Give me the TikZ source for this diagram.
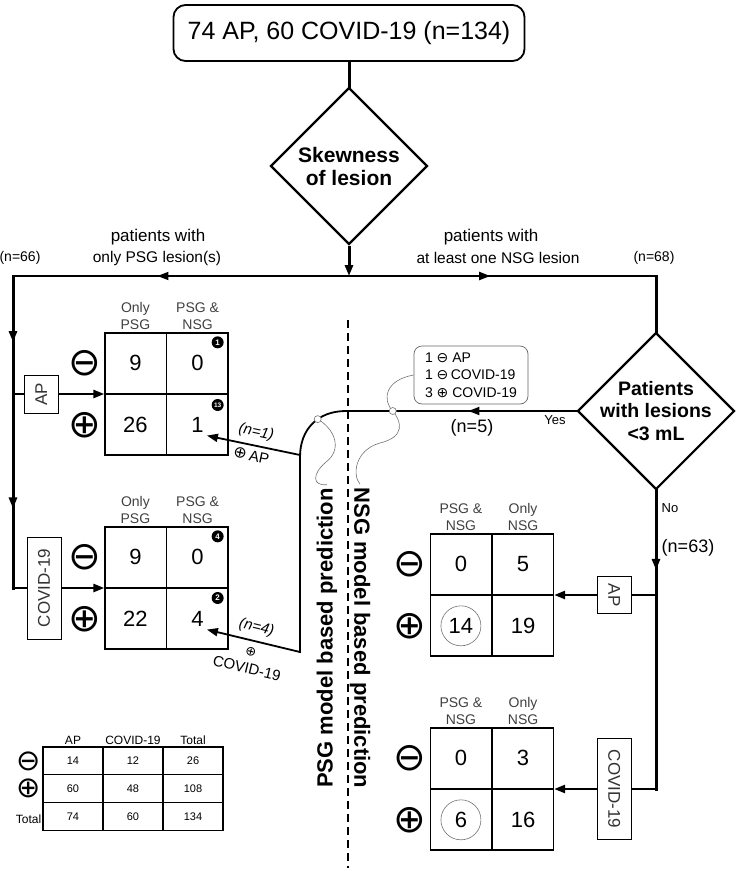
\documentclass[tikz,border=0pt]{standalone}
\usepackage{fontspec}
\setmainfont{Liberation Sans}
\newfontfamily\signfont{DejaVu Sans}
\usetikzlibrary{shapes.geometric,arrows.meta,calc,decorations.markings}

\tikzset{
  flow/.style={line width=3pt, line cap=rect},
  link/.style={line width=1.8pt, line cap=rect},
  feed/.style={line width=2.5pt},
  midarrow/.style={postaction={decorate},
    decoration={markings, mark=at position #1 with {\arrow{Triangle[length=11pt,width=8pt]}}}},
  decision/.style={draw, line width=2.2pt, diamond, aspect=1, minimum size=157pt, inner sep=0pt},
  dtext/.style={font=\bfseries\fontsize{19.5}{22.5}\selectfont, align=center},
  tagbox/.style={draw, line width=1pt, fill=white, text=black!80,
    font=\fontsize{17}{20}\selectfont, minimum height=34pt, inner sep=2pt},
  cmbox/.style={draw, line width=1.3pt, minimum width=123pt, minimum height=122pt, inner sep=0pt},
  cmline/.style={line width=1.3pt},
  num/.style={font=\fontsize{22}{26}\selectfont, inner sep=3pt},
  hdr/.style={font=\fontsize{14}{17}\selectfont, text=black!75, align=center, inner sep=3pt},
  sign/.style={font=\signfont\fontsize{39}{39}\selectfont, inner sep=0pt},
  badge/.style={circle, fill=black, text=white, font=\bfseries\fontsize{8}{8}\selectfont,
    inner sep=0pt, minimum size=12pt},
  ring/.style={circle, draw=black!55, line width=0.6pt, minimum size=40pt},
  wiggle/.style={draw=black!55, line width=0.6pt},
  sumcell/.style={draw, line width=1.2pt, minimum width=60pt, minimum height=27.7pt,
    font=\fontsize{11}{13}\selectfont, inner sep=0pt},
}

% 2x2 count table: name, centre, two headers, four cells
\newcommand{\cmgrid}[8]{%
  \node[cmbox] (#1) at (#2) {};
  \draw[cmline] (#1.north) -- (#1.south) (#1.west) -- (#1.east);
  \node[num] (#1-a) at ($(#1.north west)!0.5!(#1.center)$) {#5};
  \node[num] (#1-b) at ($(#1.north east)!0.5!(#1.center)$) {#6};
  \node[num] (#1-c) at ($(#1.south west)!0.5!(#1.center)$) {#7};
  \node[num] (#1-d) at ($(#1.south east)!0.5!(#1.center)$) {#8};
  \node[hdr, anchor=south] (#1-h1) at ($(#1.north west)!0.25!(#1.north east)$) {#3};
  \node[hdr, anchor=south] (#1-h2) at ($(#1.north west)!0.75!(#1.north east)$) {#4};
  \node[sign, anchor=east] (#1-m) at ($(#1.north west)!0.25!(#1.south west)+(-3,0)$) {⊖};
  \node[sign, anchor=east] (#1-p) at ($(#1.north west)!0.75!(#1.south west)+(-3,0)$) {⊕};
}
\newcommand{\smallsign}[1]{{\signfont\fontsize{14}{14}\selectfont #1}}

\begin{document}
\begin{tikzpicture}[x=1pt, y=-1pt, >={Triangle[length=11pt,width=8pt]}]
  \useasboundingbox (0,0) rectangle (737,871);

  % --- 1. cohort and first decision ---
  \node[draw, line width=1.8pt, rounded corners=12pt, minimum width=351pt, minimum height=56pt,
    font=\fontsize{25}{30}\selectfont] (cohort) at (349,33) {74 AP, 60 COVID-19 (n=134)};
  \node[decision] (skew) at (349,166) {};
  \node[dtext, font=\bfseries\fontsize{21}{23}\selectfont] (skewtxt) at (skew) {Skewness\\of lesion};

  \coordinate (split) at (349,276);
  \coordinate (lcorner) at (13,276);
  \coordinate (rcorner) at (656,276);
  \draw[flow] (cohort) -- (skew);
  \draw[flow, line cap=butt, ->] (skew) -- (split);
  \draw[link, midarrow=0.57] (split) -- (lcorner);
  \draw[link, midarrow=0.46] (split) -- (rcorner);

  \node[font=\fontsize{17}{20}\selectfont] (ltop) at (158,237) {patients with};
  \node[font=\fontsize{15.5}{18}\selectfont] (lbot) at (157,258) {only PSG lesion(s)};
  \node[font=\fontsize{17}{20}\selectfont] (rtop) at (491,237) {patients with};
  \node[font=\fontsize{15.5}{18}\selectfont] (rbot) at (498,258) {at least one NSG lesion};
  \node[font=\fontsize{14}{16}\selectfont] (nleft) at (20,258) {(n=66)};
  \node[font=\fontsize{14}{16}\selectfont] (nright) at (654,258) {(n=68)};

  % --- 2. count tables ---
  \cmgrid{L1}{166.5,394}{Only\\PSG}{PSG \&\\NSG}{9}{0}{26}{1}
  \cmgrid{L2}{166.5,588}{Only\\PSG}{PSG \&\\NSG}{9}{0}{22}{4}
  \cmgrid{R1}{492,595}{PSG \&\\NSG}{Only\\NSG}{0}{5}{14}{19}
  \cmgrid{R2}{492,789}{PSG \&\\NSG}{Only\\NSG}{0}{3}{6}{16}

  \node[badge] (b1) at ($(L1.north east)+(-11,10)$) {1};
  \node[badge, font=\bfseries\fontsize{6.5}{7}\selectfont] (b13) at ($(L1.east)+(-11,11)$) {13};
  \node[badge] (b4) at ($(L2.north east)+(-11,10)$) {4};
  \node[badge] (b2) at ($(L2.east)+(-11,10)$) {2};
  \node[ring] (ring14) at (R1-c) {};
  \node[ring] (ring6) at (R2-c) {};

  % --- 3. left branch (only PSG lesions) ---
  \coordinate (lap) at (13,394);
  \coordinate (lcovid) at (13,588);
  \draw[flow, midarrow=0.56] (lcorner) -- (lap);
  \draw[flow, midarrow=0.59] (lap) -- (lcovid);
  \draw[feed, ->] (lap) -- node[tagbox, pos=0.31, rotate=90, minimum width=38pt] (apL) {AP} (L1.west);
  \draw[feed, ->] (lcovid) -- node[tagbox, pos=0.34, rotate=90, minimum width=102pt] (covL) {COVID-19} (L2.west);

  % --- 4. right branch (at least one NSG lesion) ---
  \node[decision] (small) at (656,411) {};
  \node[dtext] (smalltxt) at (small) {Patients\\with lesions\\<3 mL};
  \draw[flow] (rcorner) -- (small);

  % yes: small lesions go to the PSG model
  \coordinate (bendtop) at (346,411);
  \coordinate (bendside) at (300,457);
  \coordinate (fork1) at (300,455);
  \coordinate (fork2) at (300,652);
  \draw[link, midarrow=108pt] (small.west) -- coordinate[pos=0.797] (nsgmark) (bendtop)
    .. controls (318,411) and (300,429) .. coordinate[pos=0.4] (psgmark) (bendside) -- (fork2);
  \node[font=\fontsize{13}{15}\selectfont] (yes) at (555,420) {Yes};
  \node[font=\fontsize{18}{21}\selectfont] (n5) at (472,428) {(n=5)};

  \draw[link, ->] (fork1) -- node[sloped, above=2pt, font=\itshape\fontsize{15}{18}\selectfont] (n1) {(n=1)}
    node[sloped, below=1pt, font=\fontsize{15}{18}\selectfont] (pap) {{\signfont\fontsize{16}{16}\selectfont ⊕}\,AP} (L1-d.south east);
  \draw[link, ->] (fork2) -- node[sloped, above=2pt, font=\itshape\fontsize{15}{18}\selectfont] (n4) {(n=4)}
    node[sloped, below=6pt, inner sep=0pt, font=\signfont\fontsize{13}{13}\selectfont] (pplus) {⊕}
    node[sloped, below=22pt, inner sep=0pt, font=\fontsize{15}{17}\selectfont] (pcov) {COVID-19} (L2-d.south east);

  \node[draw=black!60, line width=0.7pt, rounded corners=8pt, minimum width=114pt, minimum height=58pt,
    align=left, font=\fontsize{14}{17.5}\selectfont, inner sep=5pt] (note) at (471,375)
    {1 \smallsign{⊖} AP\\1 \smallsign{⊖}\,COVID-19\\3 \smallsign{⊕} COVID-19};

  % no: the rest go to the NSG tables
  \coordinate (rap) at (656,595);
  \coordinate (rcovid) at (656,789);
  \draw[flow, midarrow=0.76] (small) -- (rap);
  \draw[flow] (rap) -- (rcovid);
  \draw[feed, ->] (rap) -- node[tagbox, pos=0.41, rotate=-90, minimum width=37pt] (apR) {AP} (R1.east);
  \draw[feed, ->] (rcovid) -- node[tagbox, pos=0.41, rotate=-90, minimum width=101pt] (covR) {COVID-19} (R2.east);
  \node[font=\fontsize{13}{15}\selectfont] (no) at (670,508) {No};
  \node[font=\fontsize{18}{21}\selectfont] (n63) at (688,548) {(n=63)};

  % --- 5. model split line and labels ---
  \coordinate (dtop) at (348,320);
  \coordinate (dbot) at (348,868);
  \draw[line width=1.6pt, dash pattern=on 8pt off 5pt] (dtop) -- (dbot);
  \node[rotate=90, font=\bfseries\fontsize{22}{26}\selectfont] (psgtxt) at (327,638) {PSG model based prediction};
  \node[rotate=-90, font=\bfseries\fontsize{22}{26}\selectfont] (nsgtxt) at (360,638) {NSG model based prediction};

  \draw[wiggle] (note.west) .. controls (385,380) and (382,400) .. (nsgmark)
    .. controls (402,422) and (405,437) .. (380,443) .. controls (355,450) and (352,475) .. (nsgtxt.west);
  \draw[wiggle] (psgmark) .. controls (336,430) and (342,450) .. (326,462)
    .. controls (312,474) and (312,486) .. (psgtxt.east);
  \draw[wiggle, fill=white] (nsgmark) circle[radius=3.5pt];
  \draw[wiggle, fill=white] (psgmark) circle[radius=3.5pt];

  % --- 6. summary table ---
  \foreach \va/\vb/\vc [count=\i] in {14/12/26, 60/48/108, 74/60/134} {
    \node[sumcell] (s\i-1) at (73, 733.2+27.7*\i) {\va};
    \node[sumcell] (s\i-2) at (133, 733.2+27.7*\i) {\vb};
    \node[sumcell] (s\i-3) at (193, 733.2+27.7*\i) {\vc};
  }
  \node[above, inner sep=2pt, font=\fontsize{12}{14}\selectfont] (hap) at (s1-1.north) {AP};
  \node[above, inner sep=2pt, font=\fontsize{12}{14}\selectfont] (hcov) at (s1-2.north) {COVID-19};
  \node[above, inner sep=2pt, font=\fontsize{12}{14}\selectfont] (htot) at (s1-3.north) {Total};
  \node[sign, anchor=east, font=\signfont\fontsize{29}{29}\selectfont] (sm) at ($(s1-1.west)+(-1,0)$) {⊖};
  \node[sign, anchor=east, font=\signfont\fontsize{29}{29}\selectfont] (sp) at ($(s2-1.west)+(-1,0)$) {⊕};
  \node[anchor=east, inner sep=1pt, font=\fontsize{12}{14}\selectfont] (stot) at ($(s3-1.west)+(0,3)$) {Total};

\end{tikzpicture}
\end{document}
